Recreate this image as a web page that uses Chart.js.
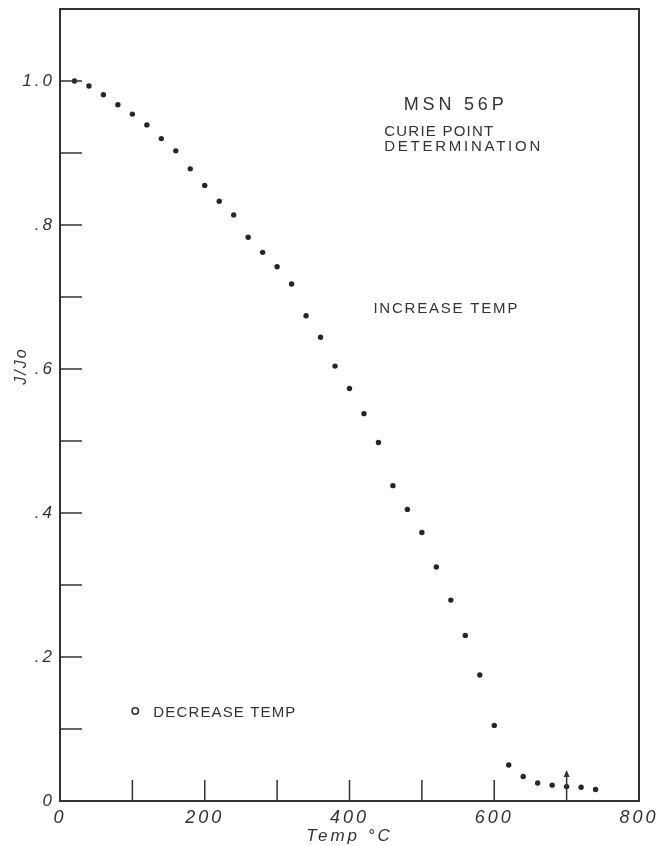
<!DOCTYPE html>
<html>
<head>
<meta charset="utf-8">
<script src="https://cdn.jsdelivr.net/npm/chart.js@4.4.0/dist/chart.umd.min.js"></script>
<style>
  body { margin: 0; background: #fff; }
</style>
</head>
<body>
<canvas id="curieChart" width="660" height="846"></canvas>
<script>
// 升溫讀值: 溫度(°C) 與 J/Jo
const tempC = [20, 40, 60, 80, 100, 120, 140, 160, 180, 200, 220, 240, 260, 280, 300, 320, 340, 360, 380, 400,
  420, 440, 460, 480, 500, 520, 540, 560, 580, 600, 620, 640, 660, 680, 700, 720, 740];
const jRatio = [1.0, 0.993, 0.981, 0.967, 0.954, 0.939, 0.920, 0.903, 0.878, 0.855, 0.833, 0.814, 0.783, 0.762, 0.742, 0.718, 0.674, 0.644, 0.604, 0.573,
  0.538, 0.498, 0.438, 0.405, 0.373, 0.325, 0.279, 0.230, 0.175, 0.105, 0.050, 0.034, 0.025, 0.022, 0.020, 0.019, 0.016];

// 刻度
const xTicks = [0, 100, 200, 300, 400, 500, 600, 700, 800];
const xTickText = ['0', '', '200', '', '400', '', '600', '', '800'];
const yTicks = [0, 0.1, 0.2, 0.3, 0.4, 0.5, 0.6, 0.7, 0.8, 0.9, 1.0];
const yTickText = ['0', '', '.2', '', '.4', '', '.6', '', '.8', '', '1.0'];

// 居禮點箭頭 (700°C)
const curieTemp = 700;
const curieArrowTop = 0.043;

// 圖上文字 (資料座標)
const notes = [
  { text: 'MSN 56P', x: 544, y: 0.966, size: 18, width: 100, center: true },
  { text: 'CURIE POINT', x: 448, y: 0.930, size: 15, width: 109 },
  { text: 'DETERMINATION', x: 448, y: 0.908, size: 15, width: 156 },
  { text: 'INCREASE TEMP', x: 433, y: 0.683, size: 15, width: 144 },
  { text: 'DECREASE TEMP', x: 129, y: 0.123, size: 15, width: 142 }
];
const openMark = { x: 104, y: 0.125 };

const ink = '#333';

function drawSpaced(ctx, txt, px, py, size, width, center) {
  ctx.save();
  ctx.font = size + 'px "Liberation Sans"';
  ctx.letterSpacing = '0px';
  const w0 = ctx.measureText(txt).width;
  const sp = (width - w0) / (txt.length - 1);
  ctx.letterSpacing = sp + 'px';
  ctx.fillStyle = ink;
  ctx.textAlign = 'left';
  ctx.textBaseline = 'middle';
  ctx.fillText(txt, center ? px - width / 2 : px, py);
  ctx.restore();
}

// 外框、內側刻度、標註
const framePlugin = {
  id: 'frame',
  beforeDraw(chart) {
    chart.ctx.letterSpacing = '3px';
  },
  afterDraw(chart) {
    const ctx = chart.ctx;
    const { left, right, top, bottom } = chart.chartArea;
    const xs = chart.scales.x, ys = chart.scales.y;
    ctx.save();
    ctx.letterSpacing = '0px';
    ctx.strokeStyle = ink;
    ctx.lineWidth = 2;
    ctx.strokeRect(left, top, right - left, bottom - top);

    ctx.lineWidth = 1.5;
    ctx.beginPath();
    yTicks.forEach(v => {
      if (v === 0) return;
      const py = ys.getPixelForValue(v);
      ctx.moveTo(left, py);
      ctx.lineTo(left + 22, py);
    });
    xTicks.forEach(v => {
      if (v === 0 || v === 800 || v === curieTemp) return;
      const px = xs.getPixelForValue(v);
      ctx.moveTo(px, bottom);
      ctx.lineTo(px, bottom - 21);
    });
    ctx.stroke();

    // 箭頭
    const ax = xs.getPixelForValue(curieTemp);
    const ay = ys.getPixelForValue(curieArrowTop);
    ctx.beginPath();
    ctx.moveTo(ax, bottom);
    ctx.lineTo(ax, ay + 4);
    ctx.stroke();
    ctx.fillStyle = ink;
    ctx.beginPath();
    ctx.moveTo(ax, ay);
    ctx.lineTo(ax - 3, ay + 7);
    ctx.lineTo(ax + 3, ay + 7);
    ctx.closePath();
    ctx.fill();

    // 空心圓 (降溫)
    ctx.beginPath();
    ctx.lineWidth = 1.6;
    ctx.arc(xs.getPixelForValue(openMark.x), ys.getPixelForValue(openMark.y), 3.2, 0, Math.PI * 2);
    ctx.stroke();

    notes.forEach(n => {
      drawSpaced(ctx, n.text, xs.getPixelForValue(n.x), ys.getPixelForValue(n.y), n.size, n.width, n.center);
    });

    // y 軸標題
    ctx.translate(22, ys.getPixelForValue(0.604));
    ctx.rotate(-Math.PI / 2);
    ctx.font = 'italic 16px "Liberation Sans"';
    ctx.letterSpacing = '2px';
    ctx.textAlign = 'center';
    ctx.textBaseline = 'middle';
    ctx.fillText('J/Jo', 0, 0);
    ctx.restore();
  }
};

new Chart(document.getElementById('curieChart'), {
  type: 'scatter',
  data: {
    datasets: [{
      label: 'INCREASE TEMP',
      data: tempC.map((t, i) => ({ x: t, y: jRatio[i] })),
      pointRadius: 2.7,
      pointBorderWidth: 0,
      pointBackgroundColor: '#262626'
    }]
  },
  options: {
    responsive: false,
    animation: false,
    devicePixelRatio: 1,
    layout: { padding: { left: 0, right: 21, top: 9, bottom: 0 } },
    plugins: { legend: { display: false }, tooltip: { enabled: false } },
    scales: {
      x: {
        type: 'linear',
        min: 0,
        max: 800,
        afterBuildTicks: s => { s.ticks = xTicks.map(v => ({ value: v })); },
        afterFit: s => { s.height = 45; s.paddingLeft = 0; s.paddingRight = 0; },
        grid: { display: false, drawTicks: false },
        border: { display: false },
        ticks: {
          padding: 6,
          color: ink,
          maxRotation: 0,
          autoSkip: false,
          font: { family: 'Liberation Sans', style: 'italic', size: 18 },
          callback: v => xTickText[xTicks.indexOf(v)] ?? ''
        },
        title: {
          display: true,
          text: 'Temp °C',
          color: ink,
          padding: { top: 0, bottom: 0 },
          font: { family: 'Liberation Sans', style: 'italic', size: 17 }
        }
      },
      y: {
        type: 'linear',
        min: 0,
        max: 1.1,
        afterBuildTicks: s => { s.ticks = yTicks.map(v => ({ value: v })); },
        afterFit: s => { s.width = 60; s.paddingTop = 0; s.paddingBottom = 0; },
        grid: { display: false, drawTicks: false },
        border: { display: false },
        ticks: {
          padding: 5,
          color: ink,
          autoSkip: false,
          font: { family: 'Liberation Sans', style: 'italic', size: 17 },
          callback: v => yTickText[Math.round(v * 10)] ?? ''
        }
      }
    }
  },
  plugins: [framePlugin]
});
</script>
</body>
</html>
